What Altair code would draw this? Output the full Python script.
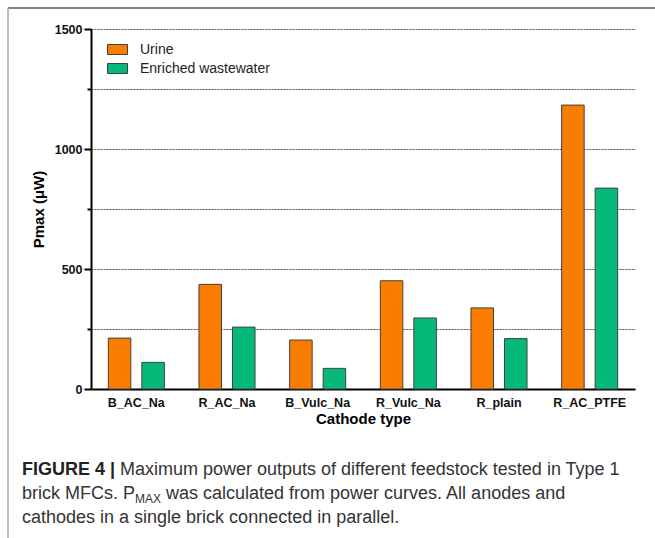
import altair as alt
import pandas as pd

# Maximum power output (µW) per cathode type and feedstock
categories = ["B_AC_Na", "R_AC_Na", "B_Vulc_Na", "R_Vulc_Na", "R_plain", "R_AC_PTFE"]
urine = [212, 436, 204, 451, 338, 1183]
enriched = [111, 258, 86, 296, 210, 837]
series = ["Urine", "Enriched wastewater"]
colors = ["#FA7D00", "#06B978"]

rows = []
for cat, u, e in zip(categories, urine, enriched):
    rows.append({"cathode": cat, "feed": series[0], "pmax": u})
    rows.append({"cathode": cat, "feed": series[1], "pmax": e})
df = pd.DataFrame(rows)

FONT = "Liberation Sans"
W, H = 544, 360
PAD = {"left": 91, "top": 29, "right": 20, "bottom": 149}

bars = alt.Chart(df).mark_bar(stroke="#404040", strokeWidth=1).encode(
    x=alt.X(
        "cathode:N",
        sort=categories,
        title="Cathode type",
        scale=alt.Scale(paddingInner=0.382, paddingOuter=0.191),
        axis=alt.Axis(
            labelAngle=0,
            labelFont=FONT,
            labelFontSize=12.5,
            labelFontWeight="bold",
            labelColor="#111",
            labelPadding=7,
            ticks=False,
            domainColor="#000",
            domainWidth=2,
            titleFont=FONT,
            titleFontSize=15,
            titleFontWeight="bold",
            titleColor="#000",
            titlePadding=3,
        ),
    ),
    xOffset=alt.XOffset(
        "feed:N", sort=series, scale=alt.Scale(paddingInner=0.328, paddingOuter=0)
    ),
    y=alt.Y(
        "pmax:Q",
        title="Pmax (μW)",
        scale=alt.Scale(domain=[0, 1500], nice=False),
        axis=alt.Axis(
            values=[0, 250, 500, 750, 1000, 1250, 1500],
            labelExpr="datum.value % 500 === 0 ? datum.label : ''",
            format="d",
            labelFont=FONT,
            labelFontSize=12.5,
            labelFontWeight="bold",
            labelColor="#111",
            labelPadding=2,
            tickColor="#000",
            tickWidth=2,
            tickSize={"condition": {"test": "datum.value % 500 === 0", "value": 7}, "value": 4},
            domainColor="#000",
            domainWidth=2,
            grid=True,
            gridColor="#555",
            gridDash=[2, 1],
            gridWidth=1,
            titleFont=FONT,
            titleFontSize=15,
            titleFontWeight="bold",
            titleColor="#000",
            titlePadding=8,
        ),
    ),
    color=alt.Color(
        "feed:N",
        sort=series,
        scale=alt.Scale(domain=series, range=colors),
        legend=alt.Legend(
            title=None,
            orient="none",
            legendX=16,
            legendY=10,
            padding=0,
            symbolType="M-1,-0.5H1V0.5H-1Z",
            symbolSize=400,
            symbolStrokeColor="#404040",
            symbolStrokeWidth=1,
            symbolOpacity=1,
            labelFont=FONT,
            labelFontSize=14,
            labelColor="#222",
            labelOffset=12,
            rowPadding=1,
        ),
    ),
)

one = alt.Data(values=[{}])

# Figure frame: top and left rules
frame_top = alt.Chart(one).mark_rule(stroke="#5a5a5a", strokeWidth=1.5).encode(
    x=alt.value(-83), x2=alt.value(655 - 91), y=alt.value(-21)
)
frame_left = alt.Chart(one).mark_rule(stroke="#a5a5a5", strokeWidth=1.5).encode(
    x=alt.value(-83), y=alt.value(-21), y2=alt.value(538 - 29)
)


def caption(text, x, y, size=18, weight="normal", color="#333"):
    return alt.Chart(one).mark_text(
        text=text, font=FONT, fontSize=size, fontWeight=weight, color=color,
        align="left", baseline="alphabetic",
    ).encode(x=alt.value(x), y=alt.value(y))


cx = -69
captions = [
    caption("FIGURE 4 |", cx, 446, weight="bold", color="#222"),
    caption("Maximum power outputs of different feedstock tested in Type 1", cx + 98, 446),
    caption("brick MFCs. P", cx, 470),
    caption("MAX", cx + 113, 474, size=12),
    caption("was calculated from power curves. All anodes and", cx + 144, 470),
    caption("cathodes in a single brick connected in parallel.", cx, 494),
]

chart = alt.layer(bars, frame_top, frame_left, *captions).properties(
    width=W,
    height=H,
    padding=PAD,
    autosize=alt.AutoSizeParams(type="none"),
    background="white",
).configure_view(stroke=None)

chart.save("out.html", embed_options={"renderer": "svg", "actions": False})
